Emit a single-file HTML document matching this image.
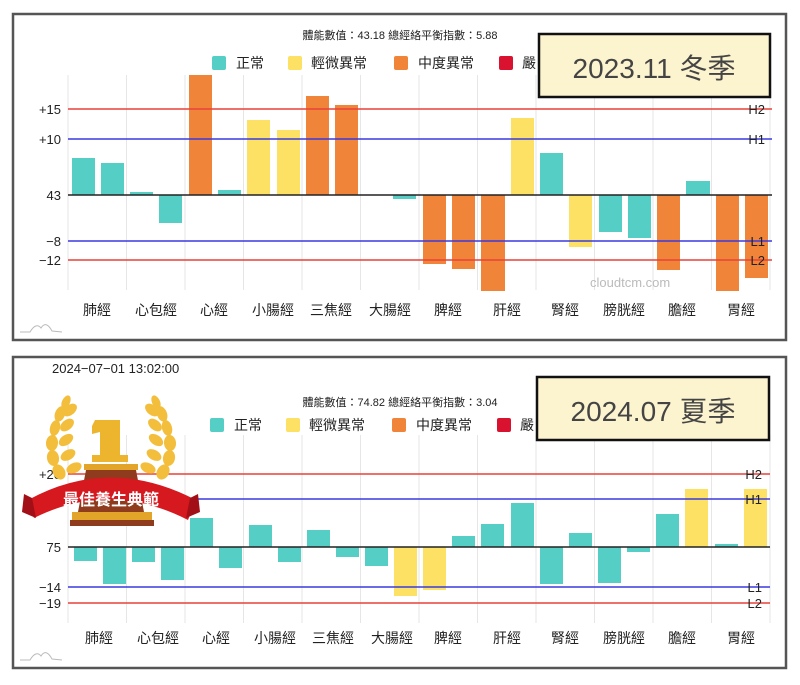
<!DOCTYPE html>
<html><head><meta charset="utf-8"><style>
html,body{margin:0;padding:0;background:#fff;}
svg{display:block;font-family:"Liberation Sans","Noto Sans CJK TC",sans-serif;}
</style></head><body>
<svg width="800" height="685" viewBox="0 0 800 685" xmlns="http://www.w3.org/2000/svg">
<!-- ===== TOP CHART ===== -->
<rect x="13" y="14" width="773" height="326" fill="#fff" stroke="#555" stroke-width="2.5"/>
<g stroke="#e6e6e6" stroke-width="1">
<line x1="68" y1="75" x2="68" y2="290"/><line x1="126.5" y1="75" x2="126.5" y2="290"/><line x1="185" y1="75" x2="185" y2="290"/><line x1="243.5" y1="75" x2="243.5" y2="290"/><line x1="302" y1="75" x2="302" y2="290"/><line x1="360.5" y1="75" x2="360.5" y2="290"/><line x1="419" y1="75" x2="419" y2="290"/><line x1="477.5" y1="75" x2="477.5" y2="290"/><line x1="536" y1="75" x2="536" y2="290"/><line x1="594.5" y1="75" x2="594.5" y2="290"/><line x1="653" y1="75" x2="653" y2="290"/><line x1="711.5" y1="75" x2="711.5" y2="290"/><line x1="770" y1="75" x2="770" y2="290"/>
</g>
<text x="400" y="39" font-size="11" text-anchor="middle" fill="#222">體能數值：43.18 總經絡平衡指數：5.88</text>
<rect x="212" y="56" width="14" height="14" rx="2" fill="#55CFC6"/><text x="236" y="68" font-size="14" fill="#222">正常</text>
<rect x="288" y="56" width="14" height="14" rx="2" fill="#FCE165"/><text x="311" y="68" font-size="14" fill="#222">輕微異常</text>
<rect x="394" y="56" width="14" height="14" rx="2" fill="#F0853A"/><text x="418" y="68" font-size="14" fill="#222">中度異常</text>
<rect x="499" y="56" width="14" height="14" rx="2" fill="#D9132F"/><text x="522" y="68" font-size="14" fill="#222">嚴</text>
<!-- bars top, zero=195 -->
<g>
<rect x="72" y="158" width="23" height="37" fill="#55CFC6"/>
<rect x="101" y="163" width="23" height="32" fill="#55CFC6"/>
<rect x="130" y="192" width="23" height="3" fill="#55CFC6"/>
<rect x="159" y="195" width="23" height="28" fill="#55CFC6"/>
<rect x="189" y="75" width="23" height="120" fill="#F0853A"/>
<rect x="218" y="190" width="23" height="5" fill="#55CFC6"/>
<rect x="247" y="120" width="23" height="75" fill="#FCE165"/>
<rect x="277" y="130" width="23" height="65" fill="#FCE165"/>
<rect x="306" y="96" width="23" height="99" fill="#F0853A"/>
<rect x="335" y="105" width="23" height="90" fill="#F0853A"/>
<rect x="393" y="195" width="23" height="4" fill="#55CFC6"/>
<rect x="423" y="195" width="23" height="69" fill="#F0853A"/>
<rect x="452" y="195" width="23" height="74" fill="#F0853A"/>
<rect x="481" y="195" width="24" height="96" fill="#F0853A"/>
<rect x="511" y="118" width="23" height="77" fill="#FCE165"/>
<rect x="540" y="153" width="23" height="42" fill="#55CFC6"/>
<rect x="569" y="195" width="23" height="52" fill="#FCE165"/>
<rect x="599" y="195" width="23" height="37" fill="#55CFC6"/>
<rect x="628" y="195" width="23" height="43" fill="#55CFC6"/>
<rect x="657" y="195" width="23" height="75" fill="#F0853A"/>
<rect x="686" y="181" width="24" height="14" fill="#55CFC6"/>
<rect x="716" y="195" width="23" height="96" fill="#F0853A"/>
<rect x="745" y="195" width="23" height="83" fill="#F0853A"/>
</g>
<line x1="68" y1="109" x2="772" y2="109" stroke="#E8413A" stroke-width="1.5"/>
<line x1="68" y1="139" x2="772" y2="139" stroke="#3A3AE0" stroke-width="1.5"/>
<line x1="68" y1="195" x2="772" y2="195" stroke="#222" stroke-width="1.5"/>
<line x1="68" y1="241" x2="772" y2="241" stroke="#3A3AE0" stroke-width="1.5"/>
<line x1="68" y1="260" x2="772" y2="260" stroke="#E8413A" stroke-width="1.5"/>
<g font-size="13" fill="#222" text-anchor="end">
<text x="61" y="114">+15</text><text x="61" y="144">+10</text><text x="61" y="200">43</text><text x="61" y="246">−8</text><text x="61" y="265">−12</text>
</g>
<g font-size="13" fill="#222" text-anchor="end">
<text x="765" y="114">H2</text><text x="765" y="144">H1</text><text x="765" y="246">L1</text><text x="765" y="265">L2</text>
</g>
<text x="590" y="287" font-size="13" fill="#bbb">cloudtcm.com</text>
<g font-size="14" fill="#222" text-anchor="middle">
<text x="97" y="315">肺經</text><text x="156" y="315">心包經</text><text x="214" y="315">心經</text><text x="273" y="315">小腸經</text><text x="331" y="315">三焦經</text><text x="390" y="315">大腸經</text><text x="448" y="315">脾經</text><text x="507" y="315">肝經</text><text x="565" y="315">腎經</text><text x="624" y="315">膀胱經</text><text x="682" y="315">膽經</text><text x="741" y="315">胃經</text>
</g>
<path d="M20 332 L30 332 Q36 322 41 328 Q46 320 52 331 L62 332" fill="none" stroke="#bbb" stroke-width="1"/>
<rect x="539" y="34" width="231" height="63" fill="#FCF3CF" stroke="#111" stroke-width="2.5"/>
<text x="654" y="78" font-size="28" text-anchor="middle" fill="#444">2023.11 冬季</text>

<!-- ===== BOTTOM CHART ===== -->
<rect x="13" y="357" width="773" height="311" fill="#fff" stroke="#555" stroke-width="2.5"/>
<g stroke="#e6e6e6" stroke-width="1">
<line x1="68" y1="435" x2="68" y2="623"/><line x1="126.5" y1="435" x2="126.5" y2="623"/><line x1="185" y1="435" x2="185" y2="623"/><line x1="243.5" y1="435" x2="243.5" y2="623"/><line x1="302" y1="435" x2="302" y2="623"/><line x1="360.5" y1="435" x2="360.5" y2="623"/><line x1="419" y1="435" x2="419" y2="623"/><line x1="477.5" y1="435" x2="477.5" y2="623"/><line x1="536" y1="435" x2="536" y2="623"/><line x1="594.5" y1="435" x2="594.5" y2="623"/><line x1="653" y1="435" x2="653" y2="623"/><line x1="711.5" y1="435" x2="711.5" y2="623"/><line x1="770" y1="435" x2="770" y2="623"/>
</g>
<text x="52" y="373" font-size="13" fill="#222">2024−07−01 13:02:00</text>
<text x="400" y="406" font-size="11" text-anchor="middle" fill="#222">體能數值：74.82 總經絡平衡指數：3.04</text>
<rect x="210" y="418" width="14" height="14" rx="2" fill="#55CFC6"/><text x="234" y="430" font-size="14" fill="#222">正常</text>
<rect x="286" y="418" width="14" height="14" rx="2" fill="#FCE165"/><text x="309" y="430" font-size="14" fill="#222">輕微異常</text>
<rect x="392" y="418" width="14" height="14" rx="2" fill="#F0853A"/><text x="416" y="430" font-size="14" fill="#222">中度異常</text>
<rect x="497" y="418" width="14" height="14" rx="2" fill="#D9132F"/><text x="520" y="430" font-size="14" fill="#222">嚴</text>
<g>
<rect x="74" y="547" width="23" height="14" fill="#55CFC6"/>
<rect x="103" y="547" width="23" height="37" fill="#55CFC6"/>
<rect x="132" y="547" width="23" height="15" fill="#55CFC6"/>
<rect x="161" y="547" width="23" height="33" fill="#55CFC6"/>
<rect x="190" y="518" width="23" height="29" fill="#55CFC6"/>
<rect x="219" y="547" width="23" height="21" fill="#55CFC6"/>
<rect x="249" y="525" width="23" height="22" fill="#55CFC6"/>
<rect x="278" y="547" width="23" height="15" fill="#55CFC6"/>
<rect x="307" y="530" width="23" height="17" fill="#55CFC6"/>
<rect x="336" y="547" width="23" height="10" fill="#55CFC6"/>
<rect x="365" y="547" width="23" height="19" fill="#55CFC6"/>
<rect x="394" y="547" width="23" height="49" fill="#FCE165"/>
<rect x="423" y="547" width="23" height="43" fill="#FCE165"/>
<rect x="452" y="536" width="23" height="11" fill="#55CFC6"/>
<rect x="481" y="524" width="23" height="23" fill="#55CFC6"/>
<rect x="511" y="503" width="23" height="44" fill="#55CFC6"/>
<rect x="540" y="547" width="23" height="37" fill="#55CFC6"/>
<rect x="569" y="533" width="23" height="14" fill="#55CFC6"/>
<rect x="598" y="547" width="23" height="36" fill="#55CFC6"/>
<rect x="627" y="547" width="23" height="5" fill="#55CFC6"/>
<rect x="656" y="514" width="23" height="33" fill="#55CFC6"/>
<rect x="685" y="489" width="23" height="58" fill="#FCE165"/>
<rect x="715" y="544" width="23" height="3" fill="#55CFC6"/>
<rect x="744" y="489" width="23" height="58" fill="#FCE165"/>
</g>
<line x1="68" y1="474" x2="770" y2="474" stroke="#E8413A" stroke-width="1.5"/>
<line x1="68" y1="499" x2="770" y2="499" stroke="#3A3AE0" stroke-width="1.5"/>
<line x1="68" y1="547" x2="770" y2="547" stroke="#222" stroke-width="1.5"/>
<line x1="68" y1="587" x2="770" y2="587" stroke="#3A3AE0" stroke-width="1.5"/>
<line x1="68" y1="603" x2="770" y2="603" stroke="#E8413A" stroke-width="1.5"/>
<g font-size="13" fill="#222" text-anchor="end">
<text x="61" y="479">+20</text><text x="61" y="552">75</text><text x="61" y="592">−14</text><text x="61" y="608">−19</text>
<text x="762" y="479">H2</text><text x="762" y="504">H1</text><text x="762" y="592">L1</text><text x="762" y="608">L2</text>
</g>
<g font-size="14" fill="#222" text-anchor="middle">
<text x="99" y="643">肺經</text><text x="158" y="643">心包經</text><text x="216" y="643">心經</text><text x="275" y="643">小腸經</text><text x="333" y="643">三焦經</text><text x="392" y="643">大腸經</text><text x="448" y="643">脾經</text><text x="507" y="643">肝經</text><text x="565" y="643">腎經</text><text x="624" y="643">膀胱經</text><text x="682" y="643">膽經</text><text x="741" y="643">胃經</text>
</g>
<path d="M20 660 L30 660 Q36 650 41 656 Q46 648 52 659 L62 660" fill="none" stroke="#bbb" stroke-width="1"/>
<rect x="537" y="377" width="232" height="63" fill="#FCF3CF" stroke="#111" stroke-width="2.5"/>
<text x="653" y="421" font-size="28" text-anchor="middle" fill="#444">2024.07 夏季</text>

<!-- ===== BADGE ===== -->
<g>
<g fill="#F2BE3C">
<ellipse cx="66" cy="402" rx="4" ry="7" transform="rotate(25 66 402)"/>
<ellipse cx="60" cy="414" rx="5" ry="8" transform="rotate(20 60 414)"/>
<ellipse cx="55" cy="428" rx="5" ry="8" transform="rotate(15 55 428)"/>
<ellipse cx="52" cy="443" rx="6" ry="8" transform="rotate(5 52 443)"/>
<ellipse cx="53" cy="458" rx="6" ry="8" transform="rotate(-10 53 458)"/>
<ellipse cx="59" cy="472" rx="6" ry="8" transform="rotate(-30 59 472)"/>
<ellipse cx="70" cy="410" rx="5" ry="8" transform="rotate(50 70 410)"/>
<ellipse cx="67" cy="425" rx="5" ry="8" transform="rotate(50 67 425)"/>
<ellipse cx="66" cy="440" rx="5" ry="8" transform="rotate(55 66 440)"/>
<ellipse cx="68" cy="455" rx="5" ry="8" transform="rotate(60 68 455)"/>
<ellipse cx="74" cy="468" rx="5" ry="8" transform="rotate(65 74 468)"/>
<ellipse cx="156" cy="402" rx="4" ry="7" transform="rotate(-25 156 402)"/>
<ellipse cx="162" cy="414" rx="5" ry="8" transform="rotate(-20 162 414)"/>
<ellipse cx="167" cy="428" rx="5" ry="8" transform="rotate(-15 167 428)"/>
<ellipse cx="170" cy="443" rx="6" ry="8" transform="rotate(-5 170 443)"/>
<ellipse cx="169" cy="458" rx="6" ry="8" transform="rotate(10 169 458)"/>
<ellipse cx="163" cy="472" rx="6" ry="8" transform="rotate(30 163 472)"/>
<ellipse cx="152" cy="410" rx="5" ry="8" transform="rotate(-50 152 410)"/>
<ellipse cx="155" cy="425" rx="5" ry="8" transform="rotate(-50 155 425)"/>
<ellipse cx="156" cy="440" rx="5" ry="8" transform="rotate(-55 156 440)"/>
<ellipse cx="154" cy="455" rx="5" ry="8" transform="rotate(-60 154 455)"/>
<ellipse cx="148" cy="468" rx="5" ry="8" transform="rotate(-65 148 468)"/>
</g>
<path d="M95 420 L120 420 L120 455 L128 455 L128 462 L92 462 L92 455 L100 455 L100 432 L92 434 L92 426 Z" fill="#EDB52E"/>
<rect x="84" y="464" width="54" height="6" fill="#E2A52A"/>
<path d="M86 470 L136 470 L144 512 L78 512 Z" fill="#8E3B1E"/>
<rect x="72" y="512" width="80" height="8" fill="#E2A52A"/>
<rect x="70" y="520" width="84" height="6" fill="#8E3B1E"/>
<path d="M28 500 Q110 455 196 500 L188 520 Q110 480 34 518 Z" fill="#D6181F"/>
<path d="M24 494 L32 498 L36 518 L22 512 Z" fill="#A20F16"/>
<path d="M198 494 L190 498 L186 518 L200 512 Z" fill="#A20F16"/>
<text x="111" y="505" font-size="16" font-weight="bold" fill="#fff" text-anchor="middle">最佳養生典範</text>
</g>
</svg>
</body></html>
